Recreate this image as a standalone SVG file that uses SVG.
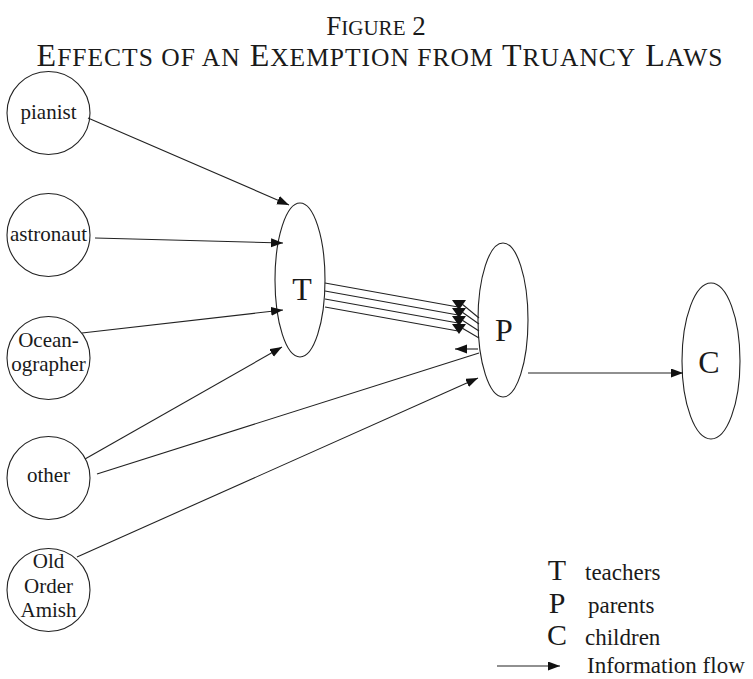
<svg xmlns="http://www.w3.org/2000/svg" width="753" height="679" viewBox="0 0 753 679">
<style>
.shape{fill:none;stroke:#222;stroke-width:1.1}
.edge{fill:none;stroke:#222;stroke-width:1.1}
.head{fill:#111;stroke:none}
text{font-family:"Liberation Serif","Times New Roman",serif;fill:#1a1a1a}
.lbl{font-size:21px;text-anchor:middle}
.big{font-size:32px;text-anchor:middle}
.lg{font-size:30px;text-anchor:middle}
.leg{font-size:23px}
.t1{font-size:27px;text-anchor:middle}
.t2{font-size:32px;text-anchor:middle;letter-spacing:1px}
.sc1{font-size:21px}
.sc2{font-size:25.5px}
</style>
<defs>
<marker id="arr" markerUnits="userSpaceOnUse" markerWidth="13" markerHeight="10" refX="12" refY="4.5" orient="auto">
<path d="M0,0 L12,4.5 L0,9 z" class="head"/>
</marker>
</defs>
<g id="title">
<text class="t1" x="376" y="35">F<tspan class="sc1">IGURE</tspan> 2</text>
<text class="t2" x="380" y="66">E<tspan class="sc2">FFECTS OF AN</tspan> E<tspan class="sc2">XEMPTION FROM</tspan> T<tspan class="sc2">RUANCY</tspan> L<tspan class="sc2">AWS</tspan></text>
</g>
<g id="node-pianist">
<circle class="shape" cx="48.5" cy="113" r="41.5"/>
<text class="lbl" x="48.5" y="119">pianist</text>
</g>
<g id="node-astronaut">
<circle class="shape" cx="48.5" cy="235" r="41.5"/>
<text class="lbl" x="48.5" y="241">astronaut</text>
</g>
<g id="node-oceanographer">
<circle class="shape" cx="48.5" cy="358" r="41.5"/>
<text class="lbl" x="48.5" y="347">Ocean-</text>
<text class="lbl" x="48.5" y="371">ographer</text>
</g>
<g id="node-other">
<circle class="shape" cx="48.5" cy="478" r="41.5"/>
<text class="lbl" x="48.5" y="482">other</text>
</g>
<g id="node-amish">
<circle class="shape" cx="48.5" cy="590" r="41.5"/>
<text class="lbl" x="48.5" y="568">Old</text>
<text class="lbl" x="48.5" y="593">Order</text>
<text class="lbl" x="48.5" y="617">Amish</text>
</g>
<g id="node-T">
<ellipse class="shape" cx="300" cy="280" rx="25" ry="77"/>
<text class="big" x="302" y="300">T</text>
</g>
<g id="node-P">
<ellipse class="shape" cx="503" cy="320" rx="25" ry="77"/>
<text class="big" x="504" y="341">P</text>
</g>
<g id="node-C">
<ellipse class="shape" cx="711" cy="361" rx="29" ry="78"/>
<text class="big" x="709" y="373">C</text>
</g>
<g id="connectors">
<line class="edge" x1="88" y1="118" x2="289" y2="205" marker-end="url(#arr)"/>
<line class="edge" x1="95" y1="238" x2="283" y2="243" marker-end="url(#arr)"/>
<line class="edge" x1="82" y1="333" x2="283" y2="310" marker-end="url(#arr)"/>
<line class="edge" x1="85" y1="459" x2="282" y2="347" marker-end="url(#arr)"/>
<line class="edge" x1="97" y1="474" x2="479" y2="353"/>
<line class="edge" x1="478" y1="349" x2="455" y2="349" marker-end="url(#arr)"/>
<line class="edge" x1="77" y1="557" x2="478" y2="378" marker-end="url(#arr)"/>
<line class="edge" x1="325" y1="283" x2="458" y2="307"/>
<line class="edge" x1="325" y1="291" x2="458" y2="315"/>
<line class="edge" x1="325" y1="299" x2="458" y2="323"/>
<line class="edge" x1="325" y1="307" x2="458" y2="331"/>
<polygon class="head" points="452,300 466,300 459,310"/>
<polygon class="head" points="452,308 466,308 459,318"/>
<polygon class="head" points="452,316 466,316 459,326"/>
<polygon class="head" points="452,324 466,324 459,334"/>
<line class="edge" x1="462" y1="304" x2="479" y2="318"/>
<line class="edge" x1="462" y1="312" x2="479" y2="324"/>
<line class="edge" x1="462" y1="320" x2="479" y2="331"/>
<line class="edge" x1="462" y1="328" x2="479" y2="338"/>
<line class="edge" x1="528" y1="373" x2="683" y2="373" marker-end="url(#arr)"/>
</g>
<g id="legend">
<text class="lg" x="557" y="580">T</text>
<text class="leg" x="585" y="580">teachers</text>
<text class="lg" x="557" y="613">P</text>
<text class="leg" x="588" y="613">parents</text>
<text class="lg" x="557" y="645">C</text>
<text class="leg" x="585" y="645">children</text>
<line class="edge" x1="497" y1="666" x2="560" y2="666" marker-end="url(#arr)"/>
<text class="leg" x="587" y="673">Information flow</text>
</g>
</svg>
